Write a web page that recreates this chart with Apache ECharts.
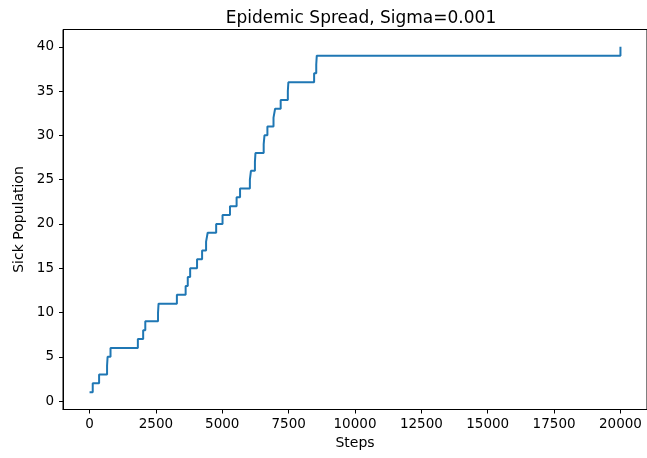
<!DOCTYPE html>
<html>
<head>
<meta charset="utf-8">
<script src="https://cdn.jsdelivr.net/npm/echarts@6/dist/echarts.min.js"></script>
<style>
  html, body { margin: 0; padding: 0; background: #ffffff; }
  #chart { width: 647px; height: 458px; }
</style>
</head>
<body>
<div id="chart"></div>
<script>
// Step at which the sick count reaches each new value
const changeSteps = [0, 120, 360, 660, 680, 790, 1820, 2020, 2100, 2580, 2600, 3290, 3620, 3700, 3790, 4050, 4240, 4390, 4450, 4770, 5010, 5290, 5540, 5670, 6040, 6080, 6230, 6250, 6560, 6590, 6700, 6930, 6990, 7200, 7470, 7490, 8460, 8540, 8560, 20000];
const sickCounts = [1, 2, 3, 4, 5, 6, 7, 8, 9, 10, 11, 12, 13, 14, 15, 16, 17, 18, 19, 20, 21, 22, 23, 24, 25, 26, 27, 28, 29, 30, 31, 32, 33, 34, 35, 36, 37, 38, 39, 40];

// Tick labels
const xTicks = [0, 2500, 5000, 7500, 10000, 12500, 15000, 17500, 20000];
const yTicks = [0, 5, 10, 15, 20, 25, 30, 35, 40];

const FONT = 'DejaVu Sans';
const series = changeSteps.map((s, i) => [s, sickCounts[i]]);

const chart = echarts.init(document.getElementById('chart'), null, { renderer: 'canvas' });
chart.setOption({
  animation: false,
  backgroundColor: '#ffffff',
  title: {
    text: 'Epidemic Spread, Sigma=0.001',
    left: 356,
    top: 5,
    textAlign: 'center',
    textStyle: { fontFamily: FONT, fontSize: 17, fontWeight: 'normal', color: '#000' }
  },
  grid: {
    left: 63, top: 29.5, width: 586, height: 380,
    show: true, borderColor: '#000', borderWidth: 1, backgroundColor: 'transparent'
  },
  xAxis: {
    type: 'value',
    min: -1000, max: 21000,
    name: 'Steps',
    nameLocation: 'middle',
    nameGap: 27,
    nameTextStyle: { fontFamily: FONT, fontSize: 14, color: '#000' },
    splitLine: { show: false },
    axisLine: { show: true, onZero: false, lineStyle: { color: '#000', width: 1 } },
    axisTick: { show: true, inside: false, length: 4, customValues: xTicks, lineStyle: { color: '#000' } },
    axisLabel: {
      customValues: xTicks, margin: 8, fontFamily: FONT, fontSize: 13.5, color: '#000',
      formatter: v => String(v)
    }
  },
  yAxis: {
    type: 'value',
    min: -0.95, max: 41.95,
    name: 'Sick Population',
    nameLocation: 'middle',
    nameGap: 36,
    nameTextStyle: { fontFamily: FONT, fontSize: 14, color: '#000' },
    splitLine: { show: false },
    axisLine: { show: true, onZero: false, lineStyle: { color: '#000', width: 1 } },
    axisTick: { show: true, inside: false, length: 4, customValues: yTicks, lineStyle: { color: '#000' } },
    axisLabel: { customValues: yTicks, margin: 9, fontFamily: FONT, fontSize: 13.5, color: '#000' }
  },
  series: [{
    type: 'line',
    step: 'end',
    data: series,
    showSymbol: false,
    lineStyle: { color: '#1f77b4', width: 2 },
    itemStyle: { color: '#1f77b4' }
  }]
});
</script>
</body>
</html>
